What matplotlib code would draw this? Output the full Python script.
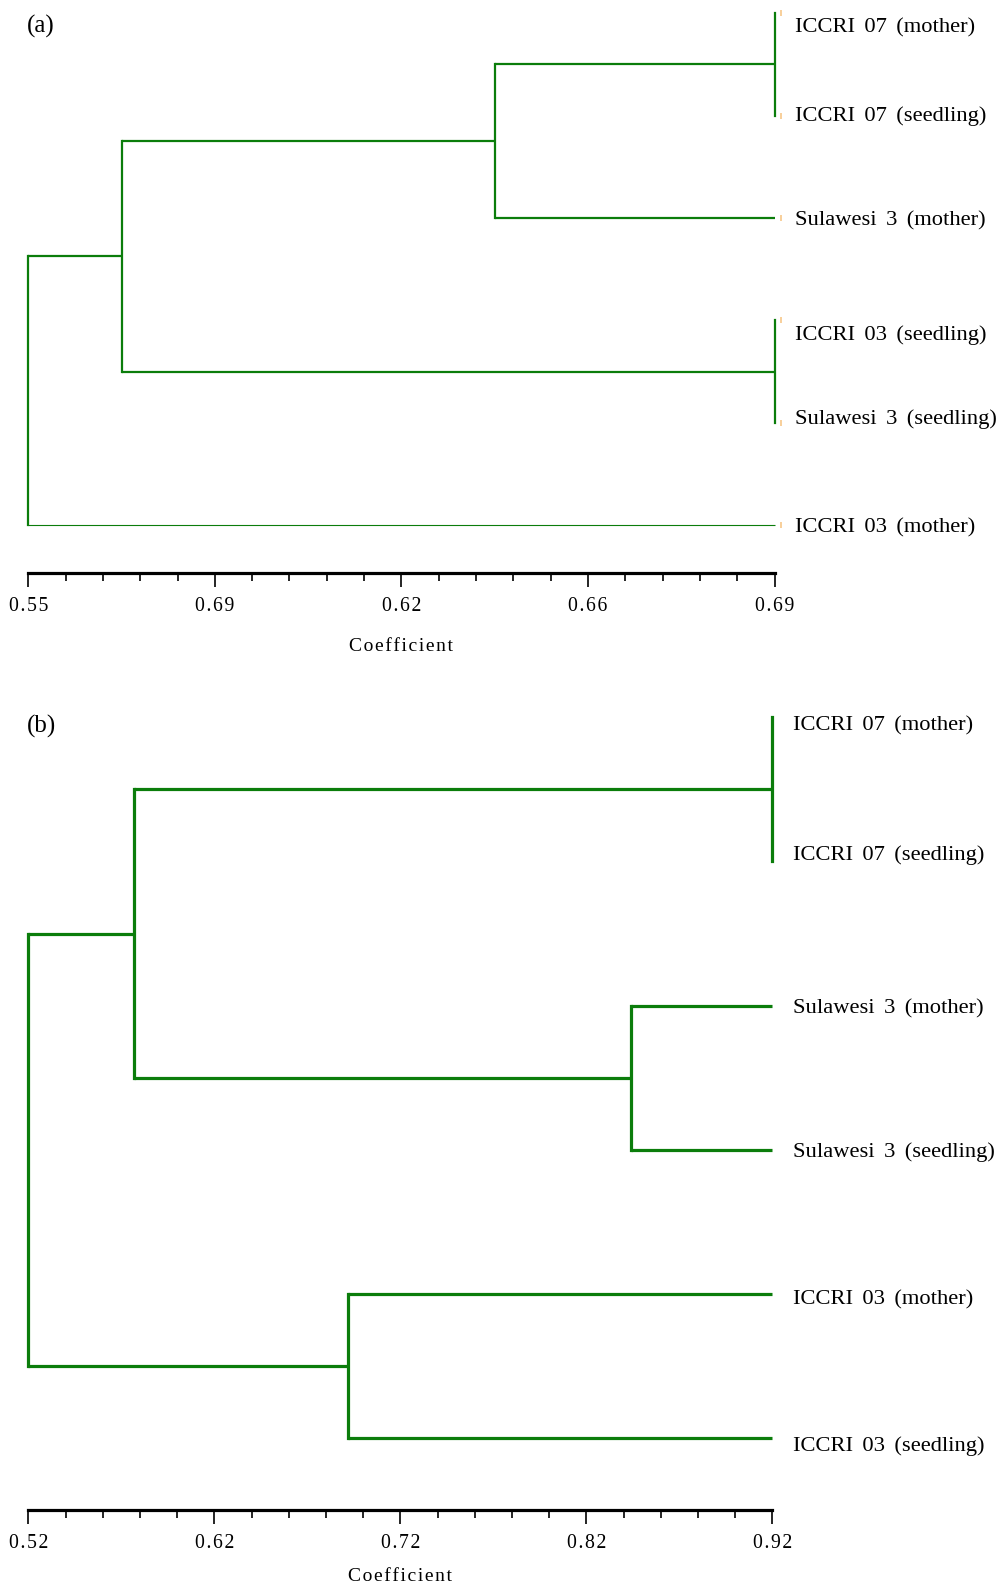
import matplotlib.pyplot as plt
from matplotlib.ticker import AutoMinorLocator
from matplotlib.transforms import offset_copy

plt.rcParams['font.family'] = ['Liberation Serif', 'DejaVu Serif']

W, H = 1007, 1586
GREEN = '#0b7d0b'
HAIR = '\u200a'

# panel (a)
leaves_a = ['ICCRI 07 (mother)', 'ICCRI 07 (seedling)', 'Sulawesi 3 (mother)',
            'ICCRI 03 (seedling)', 'Sulawesi 3 (seedling)', 'ICCRI 03 (mother)']
merges_a = [(0, 1, 0.69), (6, 2, 0.6375), (3, 4, 0.69), (7, 8, 0.5676), (9, 5, 0.55)]
ticks_a = [0.55, 0.585, 0.62, 0.655, 0.69]
ticklabels_a = ['0.55', '0.69', '0.62', '0.66', '0.69']
label_shift_a = [0.12, -0.02, 0.0, 0.12, -0.06, 0.0]

# panel (b)
leaves_b = ['ICCRI 07 (mother)', 'ICCRI 07 (seedling)', 'Sulawesi 3 (mother)',
            'Sulawesi 3 (seedling)', 'ICCRI 03 (mother)', 'ICCRI 03 (seedling)']
merges_b = [(0, 1, 0.92), (2, 3, 0.844), (6, 7, 0.577), (4, 5, 0.692), (8, 9, 0.52)]
ticks_b = [0.52, 0.62, 0.72, 0.82, 0.92]
ticklabels_b = ['0.52', '0.62', '0.72', '0.82', '0.92']
label_shift_b = [0.04, -0.06, 0.0, 0.0, 0.02, 0.035]


def px_rect(left, top, right, bottom):
    return [left / W, 1 - bottom / H, (right - left) / W, (bottom - top) / H]


def spaced(s):
    # the original print has loose letter spacing
    return HAIR.join(s)


def draw_tree(ax, leaves, merges, xmax, lw, thin=()):
    n = len(leaves)
    ypos = {i: float(i) for i in range(n)}
    xpos = {i: xmax for i in range(n)}
    for k, (a, b, h) in enumerate(merges):
        for c in (a, b):
            w = 0.8 if c in thin else lw
            ax.plot([xpos[c], h], [ypos[c], ypos[c]], color=GREEN, lw=w,
                    solid_capstyle='butt', clip_on=False)
        ax.plot([h, h], [ypos[a], ypos[b]], color=GREEN, lw=lw,
                solid_capstyle='projecting', clip_on=False)
        ypos[n + k] = (ypos[a] + ypos[b]) / 2
        xpos[n + k] = h


def panel(rect, leaves, merges, ticks, ticklabels, shifts, ylim, lw, tag, tag_y,
          labelpad, thin=(), marks=False):
    ax = fig.add_axes(rect)
    xmin, xmax = ticks[0], ticks[-1]
    draw_tree(ax, leaves, merges, xmax, lw, thin)
    ax.set_xlim(xmin, xmax)
    ax.set_ylim(*ylim)
    for i, name in enumerate(leaves):
        ax.annotate(name.replace(' ', ' ' + HAIR * 2), xy=(xmax, i + shifts[i]),
                    xytext=(15, -2), textcoords='offset points', va='center',
                    ha='left', fontsize=16.2, annotation_clip=False)
    if marks:
        tr = offset_copy(ax.transData, fig=fig, x=4.5, y=0, units='points')
        ax.plot([xmax] * len(leaves), range(len(leaves)), ls='none', marker='|',
                ms=5, mew=1.1, color='#f6c27e', transform=tr, clip_on=False)
    for s in ['top', 'left', 'right']:
        ax.spines[s].set_visible(False)
    ax.spines['bottom'].set_linewidth(2.3)
    ax.set_yticks([])
    ax.set_xticks(ticks)
    ax.set_xticklabels([spaced(t) for t in ticklabels])
    ax.xaxis.set_minor_locator(AutoMinorLocator(5))
    ax.tick_params(axis='x', which='major', length=10, width=1.2, pad=7,
                   labelsize=14.2, direction='out')
    ax.tick_params(axis='x', which='minor', length=5.5, width=1.2, direction='out')
    ax.set_xlabel(spaced('Coefficient'), fontsize=14, labelpad=labelpad)
    ax.patch.set_visible(False)
    fig.text(27 / W, 1 - tag_y / H, tag, fontsize=18, va='center', ha='left')
    return ax


fig = plt.figure(figsize=(W / 100, H / 100), dpi=100)

panel(px_rect(28.3, 0, 774.5, 573.5), leaves_a, merges_a, ticks_a, ticklabels_a,
      label_shift_a, ((573.5 - 13.2) / 102.4, -13.2 / 102.4), 1.6, '(a)', 26,
      16, thin=(5,), marks=True)

panel(px_rect(28.3, 690, 772.4, 1510), leaves_b, merges_b, ticks_b, ticklabels_b,
      label_shift_b, ((1510 - 717.2) / 144.2, (690 - 717.2) / 144.2), 2.3, '(b)', 726,
      11)

fig.savefig('out.png', dpi=100)
